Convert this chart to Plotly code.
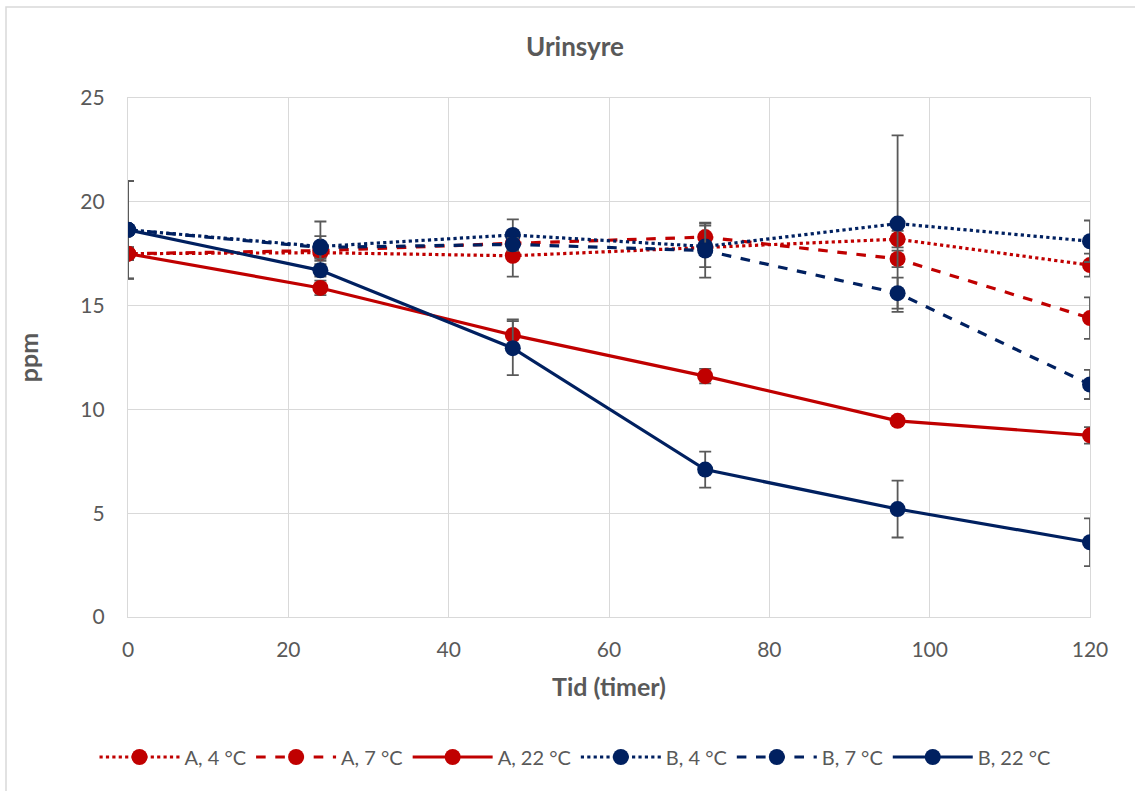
import plotly.graph_objects as go

# Sampling times (hours)
hours = [0, 24, 48, 72, 96, 120]

# Uric acid concentration (ppm) per sample and storage temperature
a_4 = [17.5, 17.55, 17.4, 17.8, 18.2, 16.95]
a_7 = [17.5, 17.65, 18.0, 18.3, 17.25, 14.4]
a_22 = [17.5, 15.85, 13.58, 11.6, 9.45, 8.75]
b_4 = [18.65, 17.85, 18.4, 17.85, 18.95, 18.1]
b_7 = [18.65, 17.8, 17.95, 17.65, 15.6, 11.2]
b_22 = [18.65, 16.7, 12.95, 7.1, 5.2, 3.6]

# Standard deviations
a_4_sd = [0.3, 0.4, 1.0, 0.3, 0.4, 0.55]
a_7_sd = [0.3, 0.3, 0.3, 0.7, 0.4, 1.0]
a_22_sd = [0.3, 0.35, 0.75, 0.35, 0.2, 0.4]
b_4_sd = [2.35, 1.2, 0.75, 1.0, 4.25, 1.0]
b_7_sd = [2.35, 0.55, 0.3, 1.3, 0.75, 0.7]
b_22_sd = [2.35, 0.3, 1.3, 0.87, 1.37, 1.15]

series_names = ["A, 4 °C", "A, 7 °C", "A, 22 °C", "B, 4 °C", "B, 7 °C", "B, 22 °C"]
series_values = [a_4, a_7, a_22, b_4, b_7, b_22]
series_sd = [a_4_sd, a_7_sd, a_22_sd, b_4_sd, b_7_sd, b_22_sd]

RED = "#C00000"
BLUE = "#002060"
GREY_TEXT = "#595959"
GRID = "#D9D9D9"
FONT = "Lato"

styles = [
    (RED, "dot"), (RED, "dash"), (RED, "solid"),
    (BLUE, "dot"), (BLUE, "dash"), (BLUE, "solid"),
]

fig = go.Figure()
for name, vals, sd, (color, dash) in zip(series_names, series_values, series_sd, styles):
    fig.add_trace(go.Scatter(
        x=hours, y=vals, name=name, mode="lines+markers",
        line=dict(color=color, width=3.2, dash=dash),
        marker=dict(color=color, size=16),
        error_y=dict(type="data", array=sd, visible=True,
                     color=GREY_TEXT, thickness=1.8, width=6),
    ))

W, H = 1135, 791
L, R, T, B = 128, 45, 98, 174
plot_w = W - L - R
plot_h = H - T - B

def px_x(p):
    return (p - L) / plot_w

def px_y(p):
    return (H - B - p) / plot_h

fig.update_layout(
    width=W, height=H,
    margin=dict(l=L, r=R, t=T, b=B),
    paper_bgcolor="white", plot_bgcolor="white",
    font=dict(family=FONT, color=GREY_TEXT, size=20),
    title=dict(text="<b>Urinsyre</b>", x=575 / W, xref="container",
               y=1 - 47 / H, yref="container", xanchor="center", yanchor="middle",
               font=dict(family=FONT, size=26, color=GREY_TEXT)),
    showlegend=True,
    legend=dict(orientation="h", xref="container", x=575 / W, xanchor="center",
                yref="container", y=1 - 757 / H, yanchor="middle",
                font=dict(family=FONT, size=20, color=GREY_TEXT),
                itemwidth=80, traceorder="normal"),
    shapes=[dict(type="rect", xref="paper", yref="paper",
                 x0=px_x(6), x1=px_x(1160), y0=px_y(815), y1=px_y(7),
                 line=dict(color=GRID, width=1.5), fillcolor="rgba(0,0,0,0)",
                 layer="below")],
)

fig.update_xaxes(
    range=[0, 120], tickvals=[0, 20, 40, 60, 80, 100, 120],
    showgrid=True, gridcolor=GRID, gridwidth=1.3,
    showline=True, linecolor=GRID, linewidth=1.3, mirror=True,
    zeroline=False, ticks="", ticklabelstandoff=14,
    tickfont=dict(family=FONT, size=21, color=GREY_TEXT),
    title=dict(text="<b>Tid (timer)</b>", standoff=18,
               font=dict(family=FONT, size=25, color=GREY_TEXT)),
)
fig.update_yaxes(
    range=[0, 25], tickvals=[0, 5, 10, 15, 20, 25],
    showgrid=True, gridcolor=GRID, gridwidth=1.3,
    showline=True, linecolor=GRID, linewidth=1.3, mirror=True,
    zeroline=False, ticks="", ticklabelstandoff=18,
    tickfont=dict(family=FONT, size=21, color=GREY_TEXT),
    title=dict(text="<b>ppm</b>", standoff=34,
               font=dict(family=FONT, size=25, color=GREY_TEXT)),
)

fig.write_html("out.html", config={"displayModeBar": False})
